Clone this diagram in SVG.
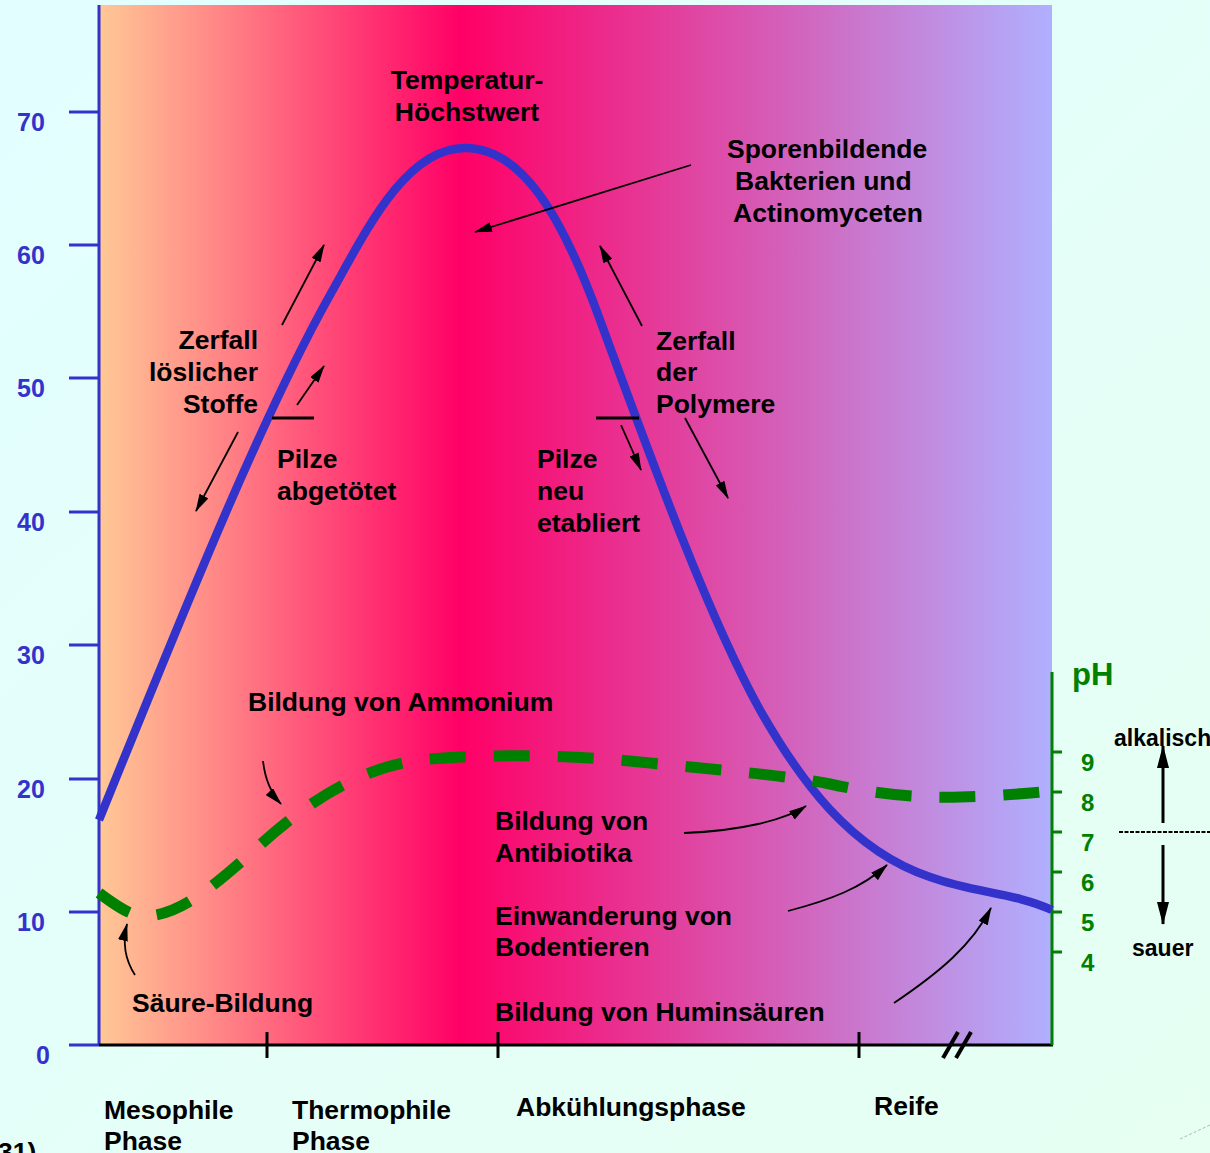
<svg xmlns="http://www.w3.org/2000/svg" width="1210" height="1153" viewBox="0 0 1210 1153">
<defs>
<linearGradient id="bg" x1="0" y1="0" x2="1" y2="1">
<stop offset="0" stop-color="#E2FEFF"/>
<stop offset="1" stop-color="#E6FFF2"/>
</linearGradient>
<linearGradient id="plot" x1="99" y1="0" x2="1052" y2="0" gradientUnits="userSpaceOnUse">
<stop offset="0" stop-color="#FFC896"/>
<stop offset="0.38" stop-color="#FF0066"/>
<stop offset="1" stop-color="#B0B0FF"/>
</linearGradient>
<marker id="ah" markerWidth="18" markerHeight="10" refX="17" refY="5" orient="auto" markerUnits="userSpaceOnUse">
<path d="M0,0 L18,5 L0,10 z" fill="#000"/>
</marker>
<marker id="ahb" markerWidth="23" markerHeight="12" refX="22" refY="6" orient="auto" markerUnits="userSpaceOnUse">
<path d="M0,0 L23,6 L0,12 z" fill="#000"/>
</marker>
<style>
text{font-family:"Liberation Sans",Arial,sans-serif;font-weight:bold;}
.lbl{font-size:26.5px;fill:#000;}
.ynum{font-size:25px;fill:#3333CC;}
.phn{font-size:24px;fill:#008000;}
.arr{fill:none;stroke:#000;stroke-width:1.8;marker-end:url(#ah);}
.arrb{fill:none;stroke:#000;stroke-width:3;marker-end:url(#ahb);}
.bar{stroke:#000;stroke-width:3;}
</style>
</defs>
<rect x="0" y="0" width="1210" height="1153" fill="url(#bg)"/>
<rect x="99" y="5" width="953" height="1040" fill="url(#plot)"/>

<g id="y-axis" stroke="#3333CC" stroke-width="3">
<line x1="99" y1="5" x2="99" y2="1046"/>
<line x1="69" y1="112" x2="99" y2="112"/>
<line x1="69" y1="245" x2="99" y2="245"/>
<line x1="69" y1="378" x2="99" y2="378"/>
<line x1="69" y1="512" x2="99" y2="512"/>
<line x1="69" y1="645" x2="99" y2="645"/>
<line x1="69" y1="779" x2="99" y2="779"/>
<line x1="69" y1="912" x2="99" y2="912"/>
<line x1="69" y1="1045" x2="99" y2="1045"/>
</g>
<g id="y-labels">
<text class="ynum" x="17" y="131">70</text>
<text class="ynum" x="17" y="264">60</text>
<text class="ynum" x="17" y="397">50</text>
<text class="ynum" x="17" y="531">40</text>
<text class="ynum" x="17" y="664">30</text>
<text class="ynum" x="17" y="798">20</text>
<text class="ynum" x="17" y="931">10</text>
<text class="ynum" x="36" y="1064">0</text>
</g>

<g id="x-axis" stroke="#000" stroke-width="3">
<line x1="99" y1="1045" x2="1053" y2="1045"/>
<line x1="267" y1="1032" x2="267" y2="1058"/>
<line x1="498" y1="1032" x2="498" y2="1058"/>
<line x1="859" y1="1032" x2="859" y2="1058"/>
<line x1="943" y1="1058" x2="958" y2="1032" stroke-width="4"/>
<line x1="956" y1="1058" x2="971" y2="1032" stroke-width="4"/>
</g>

<g id="ph-axis" stroke="#008000" stroke-width="3">
<line x1="1052" y1="672" x2="1052" y2="1045"/>
<line x1="1052" y1="752" x2="1062" y2="752"/>
<line x1="1052" y1="792" x2="1062" y2="792"/>
<line x1="1052" y1="832" x2="1062" y2="832"/>
<line x1="1052" y1="872" x2="1062" y2="872"/>
<line x1="1052" y1="912" x2="1062" y2="912"/>
<line x1="1052" y1="952" x2="1062" y2="952"/>
</g>
<g id="ph-labels">
<text x="1072" y="685" style="font-size:31px;fill:#008000">pH</text>
<text class="phn" x="1081" y="771">9</text>
<text class="phn" x="1081" y="811">8</text>
<text class="phn" x="1081" y="851">7</text>
<text class="phn" x="1081" y="891">6</text>
<text class="phn" x="1081" y="931">5</text>
<text class="phn" x="1081" y="971">4</text>
</g>

<g id="temperature-curve">
<path d="M99,820 C180,620 260,420 330,295 C365,233 405,148 465,148 C520,148 560,210 600,320 C655,470 710,620 760,710 C800,780 850,850 930,877 C975,893 1015,893 1052,910" fill="none" stroke="#3333CC" stroke-width="8.5"/>
</g>
<g id="ph-curve">
<path d="M99,893 C115,905 130,916 145,916 C180,916 215,885 260,845 C310,800 360,768 420,760 C480,754 560,754 640,762 C720,770 790,776 830,784 C880,795 920,798 960,797 C1000,796 1030,793 1052,791" fill="none" stroke="#008000" stroke-width="11" stroke-dasharray="36 28"/>
</g>

<g id="connectors">
<line class="arr" x1="282" y1="325" x2="324" y2="245"/>
<line class="arr" x1="297" y1="405" x2="324" y2="366"/>
<line class="arr" x1="238" y1="432" x2="196" y2="511"/>
<line class="bar" x1="272" y1="418" x2="314" y2="418"/>
<line class="bar" x1="596" y1="418" x2="639" y2="418"/>
<line class="arr" x1="621" y1="425" x2="641" y2="470"/>
<line class="arr" x1="685" y1="418" x2="728" y2="498"/>
<line class="arr" x1="642" y1="326" x2="600" y2="246"/>
<line class="arr" x1="691" y1="165" x2="475" y2="232"/>
<path class="arr" d="M263,761 Q266,788 281,804"/>
<path class="arr" d="M135,975 Q120,952 127,924"/>
<path class="arr" d="M684,833 C740,831 785,820 806,806"/>
<path class="arr" d="M788,911 C830,900 862,888 887,865"/>
<path class="arr" d="M894,1003 C940,972 972,945 991,908"/>
<line class="arrb" x1="1163" y1="823" x2="1163" y2="746"/>
<line class="arrb" x1="1163" y1="845" x2="1163" y2="924"/>
<line x1="1119" y1="832" x2="1210" y2="832" stroke="#000" stroke-width="2" stroke-dasharray="4 1.5"/>
<line x1="1180" y1="1139" x2="1210" y2="1125" stroke="#999" stroke-width="1" stroke-dasharray="3 2" opacity="0.7"/>
</g>

<g id="label-peak"><text class="lbl" x="467" y="89" text-anchor="middle">Temperatur-</text><text class="lbl" x="467" y="121" text-anchor="middle">Höchstwert</text></g>
<g id="label-sporen"><text class="lbl" x="727" y="158">Sporenbildende</text><text class="lbl" x="735" y="190">Bakterien und</text><text class="lbl" x="733" y="222">Actinomyceten</text></g>
<g id="label-zerfall-loeslich"><text class="lbl" x="258" y="349" text-anchor="end">Zerfall</text><text class="lbl" x="258" y="381" text-anchor="end">löslicher</text><text class="lbl" x="258" y="413" text-anchor="end">Stoffe</text></g>
<g id="label-pilze-tot"><text class="lbl" x="277" y="468">Pilze</text><text class="lbl" x="277" y="500">abgetötet</text></g>
<g id="label-zerfall-polymere"><text class="lbl" x="656" y="350">Zerfall</text><text class="lbl" x="656" y="381">der</text><text class="lbl" x="656" y="413">Polymere</text></g>
<g id="label-pilze-neu"><text class="lbl" x="537" y="468">Pilze</text><text class="lbl" x="537" y="500">neu</text><text class="lbl" x="537" y="532">etabliert</text></g>
<g id="label-ammonium"><text class="lbl" x="248" y="711">Bildung von Ammonium</text></g>
<g id="label-antibiotika"><text class="lbl" x="495" y="830">Bildung von</text><text class="lbl" x="495" y="862">Antibiotika</text></g>
<g id="label-bodentiere"><text class="lbl" x="495" y="925">Einwanderung von</text><text class="lbl" x="495" y="956">Bodentieren</text></g>
<g id="label-humin"><text class="lbl" x="495" y="1021">Bildung von Huminsäuren</text></g>
<g id="label-saeure"><text class="lbl" x="132" y="1012">Säure-Bildung</text></g>
<g id="label-alkalisch"><text x="1114" y="746" style="font-size:23px;fill:#000">alkalisch</text></g>
<g id="label-sauer"><text x="1132" y="956" style="font-size:23px;fill:#000">sauer</text></g>
<g id="phase-labels">
<text class="lbl" x="104" y="1119">Mesophile</text><text class="lbl" x="104" y="1150">Phase</text>
<text class="lbl" x="292" y="1119">Thermophile</text><text class="lbl" x="292" y="1150">Phase</text>
<text class="lbl" x="516" y="1116">Abkühlungsphase</text>
<text class="lbl" x="874" y="1115">Reife</text>
</g>
<g id="label-31"><text class="lbl" x="-2" y="1161">31)</text></g>
</svg>
